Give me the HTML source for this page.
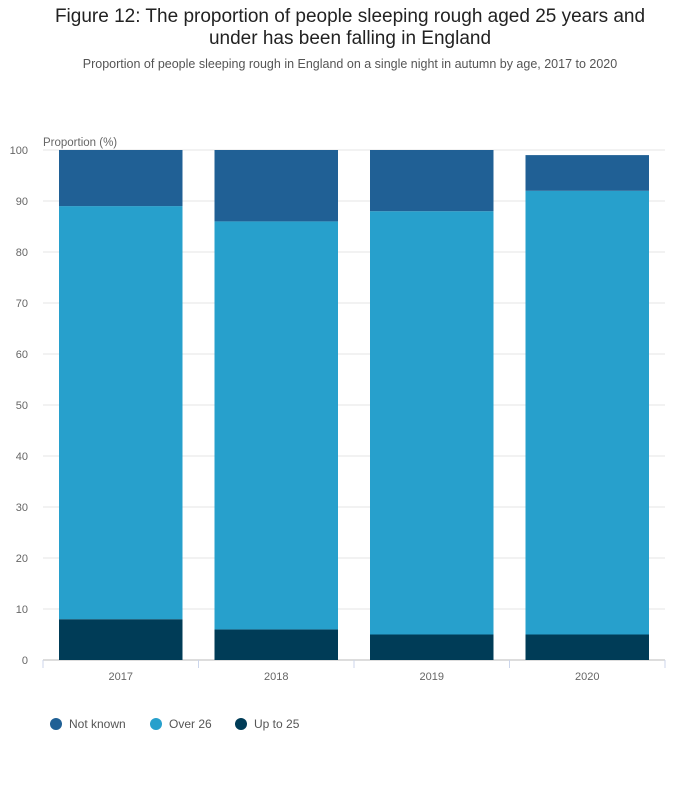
<!DOCTYPE html>
<html><head><meta charset="utf-8">
<style>
body{margin:0;background:#fff;font-family:"Liberation Sans",sans-serif;}
#wrap{position:relative;width:700px;height:810px;}
h1{position:absolute;top:6px;left:0;width:700px;text-align:center;font-size:19px;font-weight:normal;color:#222;margin:0;line-height:22px;}
#sub{position:absolute;top:57px;left:0;width:700px;text-align:center;font-size:12.5px;color:#555;}
</style></head><body>
<div id="wrap">
<h1>Figure 12: The proportion of people sleeping rough aged 25 years and<br>under has been falling in England</h1>
<div id="sub">Proportion of people sleeping rough in England on a single night in autumn by age, 2017 to 2020</div>
<svg id="chart" width="700" height="810" style="position:absolute;top:0;left:0"></svg>
</div>
<script>
const categories=["2017","2018","2019","2020"];
const upTo25=[8,6,5,5];
const over26=[81,80,83,87];
const notKnown=[11,14,12,7];
const yTicks=[0,10,20,30,40,50,60,70,80,90,100];
const seriesNames=["Not known","Over 26","Up to 25"];
const colors={"Not known":"#206095","Over 26":"#27a0cc","Up to 25":"#003c57"};
const svg=document.getElementById('chart');
const NS='http://www.w3.org/2000/svg';
const x0=43,x1=665,yBase=660,yTop=150;
const y=v=>yBase-(v/100)*(yBase-yTop);
const band=(x1-x0)/categories.length;
function mk(tag,attrs){const e=document.createElementNS(NS,tag);for(const k in attrs)e.setAttribute(k,attrs[k]);svg.appendChild(e);return e;}
yTicks.forEach(t=>{
 const g=mk('line',{x1:x0,x2:x1,y1:y(t),y2:y(t),stroke:t===0?'#bbb':'#e5e5e5'});
 
 
 const tx=mk('text',{x:28,y:y(t)+4,'text-anchor':'end','font-size':11,fill:'#666','font-family':'Liberation Sans'});
 tx.textContent=t;
 
 
});
const yt=mk('text',{x:43,y:146,'font-size':11.5,fill:'#666','font-family':'Liberation Sans'});
yt.textContent='Proportion (%)';


const stacks=[["Up to 25",upTo25],["Over 26",over26],["Not known",notKnown]];
categories.forEach((c,i)=>{
 const bx=x0+i*band+16,bw=band-32;
 let acc=0;
 stacks.forEach(([n,arr])=>{
  const v=arr[i];
  const r=mk('rect',{x:bx,y:y(acc+v),width:bw,height:y(acc)-y(acc+v),fill:colors[n]});
  
  
  acc+=v;
 });
 const tx=mk('text',{x:x0+i*band+band/2,y:680,'text-anchor':'middle','font-size':11,fill:'#666','font-family':'Liberation Sans'});
 tx.textContent=c;
 
 
});
for(let i=0;i<=categories.length;i++){
 const t=mk('line',{x1:x0+i*band,x2:x0+i*band,y1:660,y2:668,stroke:'#ccd6eb'});
 
 
}
const lx=[56,156,241];
seriesNames.forEach((n,i)=>{
 const c=mk('circle',{cx:lx[i],cy:724,r:6,fill:colors[n]});
 
 
 const t=mk('text',{x:lx[i]+13,y:728,'font-size':12,fill:'#555','font-family':'Liberation Sans'});
 t.textContent=n;
 
 
});
</script>
</body></html>
